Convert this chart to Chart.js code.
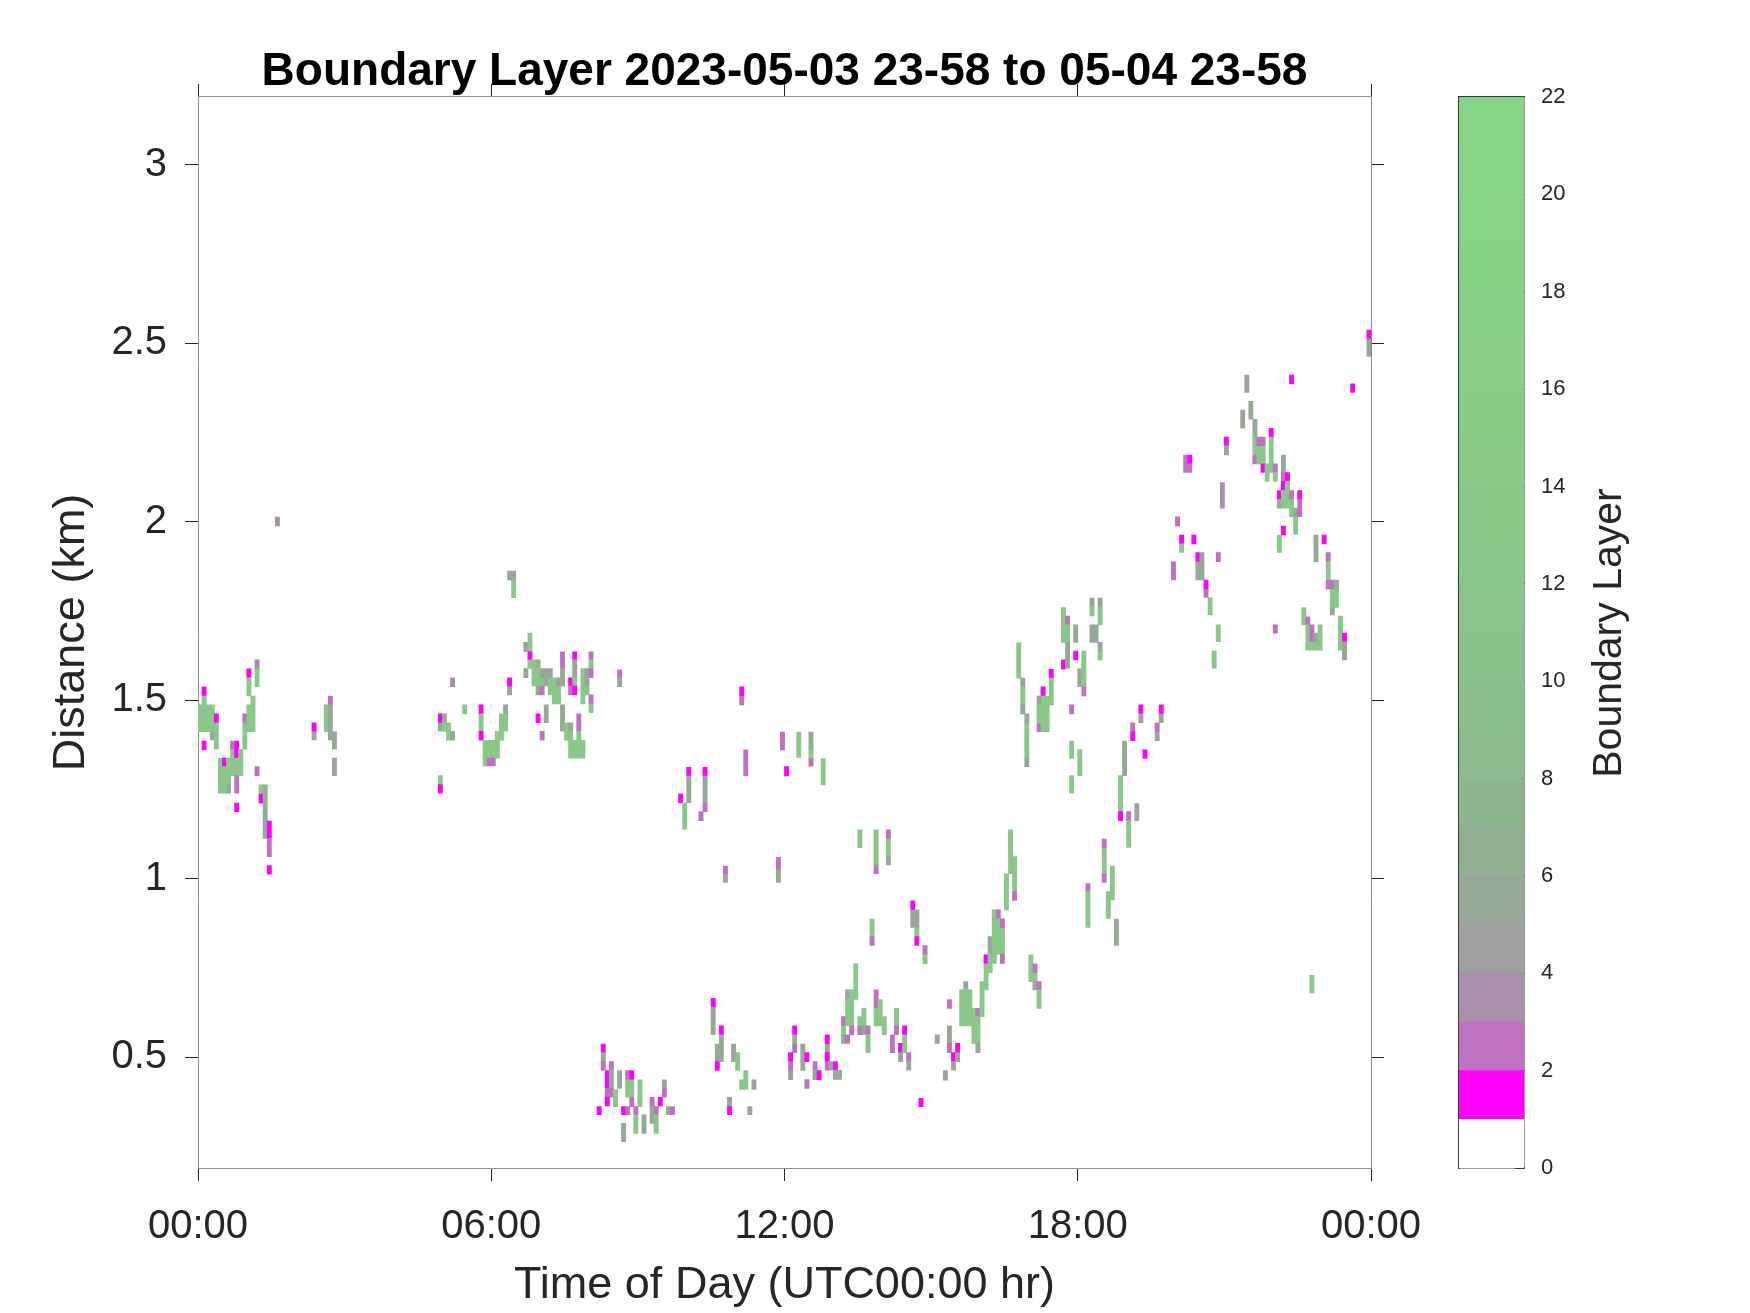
<!DOCTYPE html>
<html>
<head>
<meta charset="utf-8">
<script src="https://cdn.jsdelivr.net/npm/chart.js@4.4.1/dist/chart.umd.min.js"></script>
<style>
  html, body { margin: 0; padding: 0; background: #ffffff; }
  #wrap { position: relative; width: 1750px; height: 1313px; overflow: hidden; }
  #main { position: absolute; left: 0; top: 0; }
  #cbar { position: absolute; left: 1440px; top: 0; }
  #cbarTitle {
    position: absolute; left: 1407px; top: 608px; width: 400px; height: 50px;
    line-height: 50px; text-align: center; font-family: "Liberation Sans", Arial, sans-serif;
    font-size: 41px; color: #262626; transform: rotate(-90deg); transform-origin: 50% 50%;
    white-space: nowrap;
  }
</style>
</head>
<body>
<div id="wrap">
  <canvas id="main" width="1750" height="1313"></canvas>
  <canvas id="cbar" width="310" height="1313"></canvas>
  <div id="cbarTitle">Boundary Layer</div>
</div>
<script>
// ---------------- text ----------------
const chartTitle = 'Boundary Layer 2023-05-03 23-58 to 05-04 23-58';
const xAxisTitle = 'Time of Day (UTC00:00 hr)';
const yAxisTitle = 'Distance (km)';
const xTickHours = [0, 6, 12, 18, 24];
const xTickLabels = ['00:00', '06:00', '12:00', '18:00', '00:00'];
const yTickValues = [0.5, 1, 1.5, 2, 2.5, 3];
const yTickLabels = ['0.5', '1', '1.5', '2', '2.5', '3'];
const cbarTickValues = [0, 2, 4, 6, 8, 10, 12, 14, 16, 18, 20, 22];

// colour scale: one colour per unit band 0-1, 1-2, ... 21-22
const levelColors = [
  '#ffffff', '#ff00ff', '#c070c0', '#a98fa9', '#a0a0a0', '#98a898',
  '#91b091', '#8db68d', '#8cbb8c', '#8bbe8b', '#8ac18a', '#8ac48a',
  '#89c68a', '#89c889', '#89ca89', '#88cc88', '#88ce88', '#88cf88',
  '#87d187', '#87d287', '#87d387', '#86d486'
];
const cbarBands = levelColors.map(() => 1);

// cell values (boundary-layer level)
const M = 1.5, P = 2.5, V = 3.5, Y = 5.5, N = 6.5, G = 13;

// cells: [5-minute bin index, bottom km, top km, value]
const cells0003 = [
  [0,1.412,1.487,G],
  [1,1.512,1.538,M],[1,1.412,1.512,G],[1,1.361,1.386,M],
  [2,1.412,1.487,G],
  [3,1.412,1.487,G],[3,1.389,1.412,Y],
  [4,1.437,1.462,M],[4,1.363,1.437,G],
  [5,1.240,1.338,G],
  [6,1.314,1.338,M],[6,1.240,1.314,G],
  [7,1.263,1.338,G],[7,1.240,1.263,Y],
  [8,1.363,1.386,P],[8,1.289,1.363,G],
  [9,1.338,1.386,M],[9,1.289,1.338,G],[9,1.240,1.289,P],[9,1.188,1.212,M],
  [10,1.289,1.363,G],
  [11,1.437,1.462,P],[11,1.363,1.437,G],
  [12,1.563,1.588,M],[12,1.512,1.563,G],[12,1.412,1.487,G],
  [13,1.412,1.512,G],
  [14,1.588,1.613,V],[14,1.538,1.588,G],[14,1.289,1.314,P],
  [15,1.240,1.263,G],[15,1.212,1.238,M],
  [16,1.113,1.263,N],
  [17,1.113,1.162,M],[17,1.062,1.113,P],[17,1.013,1.037,M],
  [19,1.988,2.013,V],
  [28,1.412,1.437,M],[28,1.389,1.412,Y],
  [31,1.412,1.487,G],
  [32,1.487,1.512,P],[32,1.389,1.487,Y],
  [33,1.363,1.412,Y],[33,1.289,1.338,Y]
];

const cells0509 = [
  [59,1.437,1.462,M],[59,1.413,1.437,Y],[59,1.264,1.289,G],[59,1.240,1.264,M],
  [60,1.437,1.462,Y],[60,1.413,1.437,G],
  [61,1.388,1.437,G],
  [62,1.538,1.563,V],[62,1.388,1.413,Y],
  [65,1.462,1.487,G],
  [69,1.462,1.487,M],[69,1.413,1.462,G],[69,1.388,1.413,M],
  [70,1.316,1.388,G],
  [71,1.338,1.388,G],[71,1.316,1.338,P],
  [72,1.338,1.388,G],[72,1.316,1.338,P],
  [73,1.338,1.413,G],
  [74,1.388,1.462,G],
  [75,1.462,1.487,Y],[75,1.413,1.462,G],
  [76,1.837,1.862,Y],[76,1.538,1.563,M],[76,1.515,1.538,Y],
  [77,1.837,1.862,Y],[77,1.787,1.837,G],
  [80,1.636,1.662,Y],[80,1.563,1.589,Y],
  [81,1.636,1.688,G],[81,1.613,1.636,M],[81,1.589,1.613,G],
  [82,1.540,1.613,G],
  [83,1.589,1.613,Y],[83,1.540,1.589,G],[83,1.515,1.540,Y],[83,1.437,1.462,M],
  [84,1.563,1.589,Y],[84,1.540,1.563,G],[84,1.515,1.540,P],[84,1.388,1.413,P],
  [85,1.540,1.589,Y],[85,1.437,1.487,Y],
  [86,1.563,1.589,Y],[86,1.515,1.563,G],
  [87,1.490,1.563,G],
  [88,1.540,1.563,Y],[88,1.490,1.540,G],
  [89,1.589,1.636,P],[89,1.540,1.589,Y],[89,1.413,1.487,Y],
  [90,1.388,1.437,G],
  [91,1.540,1.563,M],[91,1.515,1.540,P],[91,1.413,1.437,Y],[91,1.338,1.413,G],
  [92,1.613,1.636,M],[92,1.563,1.613,Y],[92,1.540,1.563,G],[92,1.515,1.540,M],[92,1.338,1.388,G],
  [93,1.413,1.462,P],[93,1.338,1.413,G],
  [94,1.490,1.589,G],[94,1.338,1.388,G],
  [95,1.540,1.589,Y],[95,1.515,1.540,G],
  [96,1.613,1.636,P],[96,1.589,1.613,G],[96,1.563,1.589,P],[96,1.490,1.515,P],[96,1.465,1.490,G],
  [103,1.564,1.585,P],[103,1.538,1.564,Y]
];

const cells0812 = [
  [98,0.339,0.362,M],
  [99,0.513,0.537,M],[99,0.488,0.513,Y],[99,0.464,0.488,P],
  [100,0.413,0.463,M],[100,0.390,0.413,P],[100,0.364,0.388,M],
  [101,0.463,0.488,P],[101,0.413,0.463,Y],[101,0.388,0.413,P],
  [102,0.362,0.410,G],
  [103,0.413,0.463,Y],
  [104,0.339,0.362,M],[104,0.264,0.315,Y],
  [105,0.437,0.463,P],[105,0.388,0.437,G],[105,0.339,0.362,P],
  [106,0.437,0.463,M],[106,0.388,0.437,G],[106,0.362,0.388,P],
  [107,0.339,0.362,P],[107,0.287,0.339,G],
  [108,0.362,0.437,G],
  [109,0.287,0.339,Y],
  [111,0.362,0.388,P],[111,0.315,0.362,Y],
  [112,0.339,0.362,P],[112,0.287,0.339,G],
  [113,0.364,0.388,M],
  [114,0.413,0.437,Y],[114,0.388,0.413,P],
  [115,0.339,0.362,Y],
  [116,0.339,0.362,P],
  [118,1.213,1.238,M],
  [119,1.139,1.213,G],
  [120,1.288,1.312,M],[120,1.213,1.288,Y],
  [123,1.163,1.188,P],
  [124,1.288,1.312,M],[124,1.213,1.288,Y],[124,1.188,1.213,P],
  [126,0.640,0.665,M],[126,0.563,0.640,Y],
  [127,0.488,0.537,Y],[127,0.463,0.488,M],
  [128,0.563,0.588,M],[128,0.488,0.563,Y],
  [129,1.012,1.036,P],[129,0.990,1.012,Y],
  [130,0.362,0.388,Y],[130,0.339,0.362,M],
  [131,0.488,0.537,Y],
  [132,0.463,0.513,G],
  [133,1.512,1.538,M],[133,1.487,1.512,P],[133,0.410,0.437,G],
  [134,1.288,1.361,P],[134,0.410,0.463,G],
  [135,0.339,0.362,Y],
  [136,0.410,0.437,Y],
  [142,1.025,1.060,P],[142,0.990,1.025,Y],
  [143,1.361,1.411,P],
  [144,1.288,1.314,M],
  [145,0.488,0.513,M],[145,0.463,0.488,P],[145,0.437,0.463,Y],
  [146,0.563,0.588,M],[146,0.537,0.563,Y],[146,0.513,0.537,P],
  [147,1.340,1.411,G],
  [148,0.463,0.537,Y],
  [149,0.488,0.513,M],[149,0.413,0.438,P],
  [150,1.361,1.411,Y],[150,1.337,1.361,G],[150,1.315,1.337,P],
  [151,0.463,0.488,P],[151,0.437,0.463,Y],
  [152,0.437,0.463,M],
  [153,1.263,1.337,G],
  [154,0.537,0.563,M],[154,0.513,0.537,Y],[154,0.488,0.513,M],[154,0.464,0.488,P]
];

const cells1217 = [
  [155,0.464,0.488,Y],
  [156,0.464,0.488,M],[156,0.438,0.464,Y],
  [157,0.438,0.464,Y],
  [158,0.588,0.614,P],[158,0.563,0.588,G],[158,0.539,0.563,Y],
  [159,0.662,0.689,Y],[159,0.588,0.662,G],[159,0.539,0.563,P],
  [160,0.588,0.689,G],[160,0.563,0.588,P],
  [161,0.662,0.762,G],
  [162,1.087,1.137,G],[162,0.588,0.614,G],[162,0.563,0.588,P],
  [163,0.588,0.637,G],[163,0.563,0.588,Y],
  [164,0.563,0.588,P],[164,0.513,0.563,G],
  [165,0.838,0.887,G],[165,0.813,0.838,P],
  [166,1.039,1.137,G],[166,1.014,1.039,P],[166,0.637,0.689,P],[166,0.588,0.637,G],
  [167,0.588,0.662,G],
  [168,0.563,0.614,G],
  [169,1.112,1.137,P],[169,1.062,1.112,G],[169,1.039,1.062,Y],
  [170,0.513,0.563,P],
  [171,0.588,0.637,G],[171,0.563,0.588,P],
  [172,0.513,0.539,M],[172,0.488,0.513,Y],
  [173,0.563,0.588,M],[173,0.513,0.563,G],
  [174,0.488,0.513,P],[174,0.464,0.488,Y],
  [175,0.913,0.938,M],[175,0.864,0.913,Y],
  [176,0.864,0.913,Y],[176,0.838,0.864,G],[176,0.813,0.838,M],
  [177,0.362,0.385,M],
  [178,0.787,0.813,P],[178,0.762,0.787,G],
  [181,0.539,0.563,Y],
  [183,0.436,0.463,Y],
  [184,0.637,0.662,P],[184,0.539,0.588,Y],[184,0.513,0.539,P],
  [185,0.488,0.513,M],[185,0.464,0.488,Y],
  [186,0.513,0.539,M],[186,0.488,0.513,Y],
  [187,0.588,0.689,G],
  [188,0.689,0.712,Y],[188,0.588,0.689,G],
  [189,0.588,0.689,G],
  [190,0.539,0.637,G],
  [191,0.614,0.637,P],[191,0.539,0.614,G],[191,0.513,0.539,Y],
  [192,0.614,0.712,G],
  [193,0.762,0.787,M],[193,0.689,0.762,G],
  [194,0.789,0.838,Y],[194,0.737,0.789,G],
  [195,0.763,0.913,G],
  [196,0.888,0.913,P],[196,0.789,0.888,G],
  [197,0.861,0.888,P],[197,0.789,0.861,G],[197,0.763,0.789,P],
  [198,0.913,1.014,G],
  [199,1.014,1.137,G],
  [200,0.964,1.062,G],[200,0.939,0.964,P],
  [201,1.562,1.661,G],
  [202,1.538,1.562,Y],[202,1.487,1.538,G],[202,1.462,1.487,Y],
  [203,1.436,1.462,Y],[203,1.338,1.436,G],[203,1.314,1.338,Y],
  [204,0.712,0.787,G],
  [205,0.737,0.762,P],[205,0.712,0.737,G],[205,0.689,0.712,Y],
  [206,1.487,1.512,Y],[206,1.435,1.487,G],[206,1.412,1.435,P],[206,0.689,0.712,P],[206,0.637,0.689,G],
  [207,1.512,1.538,M],[207,1.412,1.512,G],
  [208,1.412,1.512,G],
  [209,1.562,1.587,M],[209,1.487,1.562,G]
];

const cells1720 = [
  [212,1.662,1.760,G],[212,1.588,1.613,M],
  [213,1.711,1.736,P],[213,1.662,1.711,G],[213,1.590,1.662,Y],
  [214,1.462,1.487,P],[214,1.337,1.386,G],[214,1.240,1.289,G],
  [215,1.662,1.711,Y],[215,1.613,1.638,M],
  [216,1.538,1.588,Y],[216,1.289,1.361,G],
  [217,1.538,1.638,G],[217,1.512,1.538,P],
  [218,0.964,0.987,P],[218,0.864,0.964,G],
  [219,1.760,1.786,Y],[219,1.736,1.760,G],[219,1.662,1.711,Y],
  [220,1.662,1.711,Y],
  [221,1.760,1.786,Y],[221,1.711,1.760,G],[221,1.636,1.662,Y],[221,1.613,1.636,G],
  [222,1.085,1.111,P],[222,1.015,1.085,G],[222,0.990,1.015,P],
  [223,0.889,0.964,G],
  [224,0.941,1.036,G],
  [225,0.813,0.887,Y],
  [226,1.188,1.289,G],[226,1.163,1.188,M],
  [227,1.289,1.386,Y],
  [228,1.163,1.188,P],[228,1.088,1.163,G],
  [229,1.412,1.437,P],[229,1.387,1.412,M],
  [230,1.163,1.211,Y],
  [231,1.462,1.487,M],[231,1.437,1.462,Y],
  [232,1.337,1.361,M],
  [235,1.412,1.437,P],[235,1.387,1.412,Y],
  [236,1.462,1.487,M],[236,1.437,1.462,Y]
];

const cells2024 = [
  [239,1.837,1.888,P],
  [240,1.988,2.014,P],
  [241,1.938,1.963,M],[241,1.914,1.938,G],
  [242,2.138,2.187,P],
  [243,2.162,2.187,M],[243,2.138,2.162,P],
  [244,1.938,1.963,M],
  [245,1.888,1.914,M],[245,1.837,1.888,Y],
  [246,1.837,1.914,Y],
  [247,1.811,1.837,M],[247,1.788,1.811,P],
  [248,1.739,1.788,G],
  [249,1.590,1.638,G],
  [250,1.888,1.914,P],[250,1.664,1.711,G],
  [251,2.038,2.110,V],
  [252,2.213,2.237,M],[252,2.187,2.213,Y],
  [256,2.262,2.313,Y],
  [257,2.362,2.411,Y],
  [258,2.287,2.337,Y],
  [259,2.237,2.287,Y],[259,2.187,2.237,G],[259,2.162,2.187,P],
  [260,2.211,2.237,P],[260,2.162,2.211,G],
  [261,2.211,2.237,P],[261,2.162,2.211,G],[261,2.138,2.162,M],
  [262,2.113,2.162,G],
  [263,2.237,2.262,M],[263,2.138,2.237,G],
  [264,2.138,2.162,P],[264,2.113,2.138,G],[264,1.688,1.711,P],
  [265,2.063,2.087,M],[265,2.038,2.063,Y],[265,1.914,1.963,G],
  [266,2.138,2.187,Y],[266,2.113,2.138,P],[266,2.087,2.113,M],[266,2.038,2.087,G],[266,1.963,1.988,M],
  [267,2.113,2.138,M],[267,2.038,2.113,G],
  [268,2.386,2.411,M],[268,2.063,2.087,P],[268,2.014,2.063,G],
  [269,2.014,2.038,Y],[269,1.965,2.014,G],
  [270,2.063,2.087,M],[270,2.014,2.063,P],
  [271,1.711,1.760,G],
  [272,1.711,1.734,P],[272,1.640,1.711,G],
  [273,1.664,1.711,P],[273,1.640,1.664,G],[273,0.680,0.730,G],
  [274,1.888,1.963,Y],[274,1.664,1.688,Y],[274,1.640,1.664,G],
  [275,1.640,1.711,G],
  [276,1.938,1.963,M],
  [277,1.888,1.914,P],[277,1.837,1.888,G],[277,1.811,1.837,P],
  [278,1.811,1.837,P],[278,1.760,1.811,G],[278,1.739,1.760,Y],
  [279,1.811,1.837,Y],[279,1.760,1.811,G],
  [280,1.640,1.736,G],
  [281,1.664,1.688,M],[281,1.613,1.664,Y],
  [283,2.362,2.386,M],
  [287,2.512,2.537,M],[287,2.463,2.512,Y]
];

// ---------------- build ----------------
const FONT = '"Liberation Sans", Arial, Helvetica, sans-serif';
const TXT = '#262626';
const AXIS = '#8c8c8c';
const BINS_PER_HOUR = 12;

const allCells = [].concat(cells0003, cells0509, cells0812, cells1217, cells1720, cells2024);
const points = allCells.map(([b, lo, hi, v]) => ({ x: (b + 0.5) / BINS_PER_HOUR, y: [lo, hi], v }));
const colorFor = v => levelColors[Math.max(0, Math.min(levelColors.length - 1, Math.floor(v)))];

const setTicks = vals => scale => { scale.ticks = vals.map(v => ({ value: v })); };

new Chart(document.getElementById('main'), {
  type: 'bar',
  data: {
    datasets: [{
      data: points,
      backgroundColor: ctx => colorFor(ctx.raw ? ctx.raw.v : 0),
      borderWidth: 0,
      barThickness: 4.3,
      grouped: false,
      inflateAmount: 0.3
    }]
  },
  options: {
    responsive: false,
    animation: false,
    devicePixelRatio: 1,
    events: [],
    layout: { padding: { left: 0, right: 366, top: 0, bottom: 0 } },
    plugins: {
      legend: { display: false },
      tooltip: { enabled: false },
      title: {
        display: true, text: chartTitle, fullSize: false, color: '#000000',
        font: { family: FONT, size: 46, weight: 'bold', lineHeight: 1.04 },
        padding: { top: 48, bottom: 0 }
      }
    },
    scales: {
      x: {
        type: 'linear', position: 'bottom', min: 0, max: 24, offset: false,
        afterBuildTicks: setTicks(xTickHours),
        ticks: { callback: (v, i) => xTickLabels[i], font: { family: FONT, size: 40 }, color: TXT, padding: 22, maxRotation: 0, autoSkip: false },
        grid: { drawOnChartArea: false, offset: false, tickLength: 13, tickColor: TXT, tickWidth: 1 },
        border: { color: AXIS, width: 1 },
        title: { display: true, text: xAxisTitle, color: TXT, font: { family: FONT, size: 45, lineHeight: 1.2 }, padding: { top: 0, bottom: 0 } },
        afterFit: s => { s.height = 145; }
      },
      xTop: {
        type: 'linear', position: 'top', min: 0, max: 24, offset: false,
        afterBuildTicks: setTicks(xTickHours),
        ticks: { display: false },
        grid: { drawOnChartArea: false, offset: false, tickLength: 13, tickColor: TXT, tickWidth: 1 },
        border: { color: AXIS, width: 1 },
        afterFit: s => { s.height = 1; }
      },
      y: {
        type: 'linear', position: 'left', min: 0.19, max: 3.19,
        afterBuildTicks: setTicks(yTickValues),
        ticks: { callback: (v, i) => yTickLabels[i], font: { family: FONT, size: 40 }, color: TXT, padding: 18 },
        grid: { drawOnChartArea: false, offset: false, tickLength: 13, tickColor: TXT, tickWidth: 1 },
        border: { color: AXIS, width: 1 },
        title: { display: true, text: yAxisTitle, color: TXT, font: { family: FONT, size: 45, lineHeight: 1.2 }, padding: { top: 45, bottom: 0 } },
        afterFit: s => { s.width = 198; }
      },
      yRight: {
        type: 'linear', position: 'right', min: 0.19, max: 3.19,
        afterBuildTicks: setTicks(yTickValues),
        ticks: { display: false },
        grid: { drawOnChartArea: false, offset: false, tickLength: 13, tickColor: TXT, tickWidth: 1 },
        border: { color: AXIS, width: 1 },
        afterFit: s => { s.width = 13; }
      }
    }
  }
});

// ---------------- colour bar ----------------
new Chart(document.getElementById('cbar'), {
  type: 'bar',
  data: {
    labels: [''],
    datasets: cbarBands.map((h, i) => ({
      data: [h], backgroundColor: levelColors[i], borderWidth: 0,
      barPercentage: 1, categoryPercentage: 1, stack: 'bar', inflateAmount: 0.4
    }))
  },
  options: {
    responsive: false,
    animation: false,
    devicePixelRatio: 1,
    events: [],
    layout: { padding: 0 },
    plugins: { legend: { display: false }, tooltip: { enabled: false }, title: { display: false } },
    scales: {
      x: {
        type: 'category', position: 'bottom', stacked: true,
        ticks: { display: false },
        grid: { display: true, drawOnChartArea: false, drawTicks: false },
        border: { color: '#3a3a3a', width: 1.5 },
        afterFit: s => { s.height = 145; }
      },
      xTop: {
        type: 'category', position: 'top', labels: [''],
        ticks: { display: false },
        grid: { display: true, drawOnChartArea: false, drawTicks: false },
        border: { color: '#3a3a3a', width: 1.5 },
        afterFit: s => { s.height = 97; }
      },
      yLeft: {
        type: 'linear', position: 'left', min: 0, max: 22,
        ticks: { display: false },
        grid: { display: true, drawOnChartArea: false, drawTicks: false },
        border: { color: '#3a3a3a', width: 1.5 },
        afterFit: s => { s.width = 19; }
      },
      y: {
        type: 'linear', position: 'right', min: 0, max: 22, stacked: true,
        afterBuildTicks: setTicks(cbarTickValues),
        ticks: { font: { family: FONT, size: 22 }, color: TXT, padding: 26, callback: v => String(v) },
        grid: { drawOnChartArea: false, tickLength: -9, tickColor: '#3a3a3a', tickWidth: 1 },
        border: { color: '#3a3a3a', width: 1.5 },
        afterFit: s => { s.width = 226; }
      }
    }
  }
});
</script>
</body>
</html>
